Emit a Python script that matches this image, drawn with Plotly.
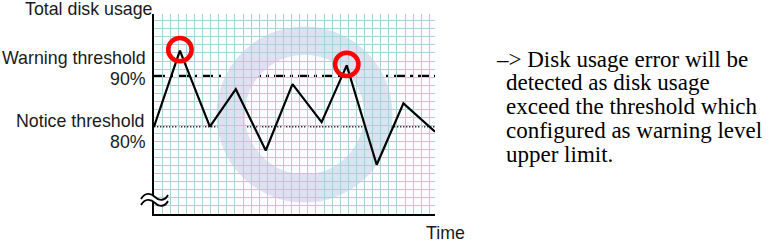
import plotly.graph_objects as go

# ---- data ----
time_pts = [0.0, 3.2, 6.9, 10.1, 13.8, 17.1, 20.7, 23.8, 27.5, 30.8, 34.7]
disk_usage = [80.0, 95.0, 80.0, 87.4, 75.3, 88.4, 80.9, 92.1, 72.5, 84.6, 79.0]
warning_level = 90
notice_level = 80
alert_idx = [1, 7]  # points exceeding the warning threshold
y_range = [62.78, 102.23]
x_range = [0, 34.7]
grid_rows = 24.84
ring_center = (18.58, 82.4)

description = [
    "\u2013> Disk usage error will be",
    "detected as disk usage",
    "exceed the threshold which",
    "configured as warning level",
    "upper limit.",
]

# ---- layout geometry (pixels) ----
W, H = 781, 245
PL, PR, PT, PB = 154, 435, 14, 214


def px_x(p):
    return (p - PL) / (PR - PL)


def px_y(p):
    return (PB - p) / (PB - PT)


GRID = "#a9d3d8"
SANS = "Liberation Sans, Arial, sans-serif"
SERIF = "Liberation Serif, Times New Roman, serif"
LS = 17.8   # left label size
RS = 23     # right text size

fig = go.Figure()

fig.add_trace(go.Scatter(
    x=time_pts, y=disk_usage, mode="lines",
    line=dict(color="black", width=2.2), hoverinfo="skip", showlegend=False,
))
# dummy trace to show the horizontal grid overlay axis
fig.add_trace(go.Scatter(x=[None], y=[None], yaxis="y2", showlegend=False, hoverinfo="skip"))

shapes = []
# big lavender ring (background)
shapes.append(dict(
    type="circle", xref="x", yref="y", xsizemode="pixel", ysizemode="pixel",
    xanchor=ring_center[0], yanchor=ring_center[1],
    x0=-73.8, x1=73.8, y0=-73.8, y1=73.8,
    line=dict(color="#dfe0f0", width=28.5), layer="below",
))
# white band above grid
shapes.append(dict(
    type="rect", xref="paper", yref="paper", x0=0.004, x1=1.02,
    y0=px_y(20.3), y1=1.0, fillcolor="white", line=dict(width=0), layer="between",
))
# warning threshold (dash-dot)
shapes.append(dict(
    type="line", xref="paper", yref="y", x0=0, x1=1, y0=warning_level, y1=warning_level,
    line=dict(color="black", width=2.6, dash="11px,5px,3px,5px"), layer="between",
))
# notice threshold (dotted)
shapes.append(dict(
    type="line", xref="paper", yref="y", x0=0, x1=1, y0=notice_level, y1=notice_level,
    line=dict(color="#333333", width=1.4, dash="1.4px,1.6px"), layer="between",
))
# red circles on alert points
for i in alert_idx:
    shapes.append(dict(
        type="circle", xref="x", yref="y", xsizemode="pixel", ysizemode="pixel",
        xanchor=time_pts[i], yanchor=disk_usage[i],
        x0=-11.7, x1=11.7, y0=-10.7, y1=12.7,
        line=dict(color="#ff0000", width=4.5), layer="above",
    ))


# axis break symbol
def pt(x, y):
    return f"{px_x(x):.5f},{px_y(y):.5f}"


upper = f"M {pt(141,199)} C {pt(145,192)} {pt(151,193)} {pt(155,197)} C {pt(159,201)} {pt(165,201)} {pt(168,195)}"
lower = f"M {pt(141,205)} C {pt(145,198)} {pt(151,199)} {pt(155,203)} C {pt(159,207)} {pt(165,207)} {pt(168,201)}"
fill = (f"M {pt(141,199)} C {pt(145,192)} {pt(151,193)} {pt(155,197)} C {pt(159,201)} {pt(165,201)} {pt(168,195)}"
        f" L {pt(168,201)} C {pt(165,207)} {pt(159,207)} {pt(155,203)} C {pt(151,199)} {pt(145,198)} {pt(141,205)} Z")
shapes.append(dict(type="path", xref="paper", yref="paper", path=fill,
                   fillcolor="white", line=dict(width=0), layer="above"))
for p in (upper, lower):
    shapes.append(dict(type="path", xref="paper", yref="paper", path=p,
                       line=dict(color="black", width=1.8), layer="above"))

annotations = []


def label(text, x, y, xanchor="right", size=LS, family=SANS, **kw):
    annotations.append(dict(
        text=text, x=x, y=y, xanchor=xanchor, yanchor="middle", showarrow=False,
        font=dict(family=family, size=size, color="#1a1a1a"), borderpad=0, **kw,
    ))


off = 0.3465 * LS
label("Total disk usage", px_x(153.5), px_y(15 - off), xref="paper", yref="paper")
label("Warning threshold", px_x(147), warning_level, xref="paper", yref="y", yshift=76 - (64 - off))
label("90%", px_x(147), warning_level, xref="paper", yref="y", yshift=76 - (85 - off))
label("Notice threshold", px_x(146), notice_level, xref="paper", yref="y", yshift=126.7 - (126.7 - off))
label("80%", px_x(147), notice_level, xref="paper", yref="y", yshift=126.7 - (148.3 - off))
label("Time", px_x(425), px_y(239 - off), xanchor="left", xref="paper", yref="paper")

baselines = [67, 90.5, 114.5, 138.5, 162]
for i, (line, b) in enumerate(zip(description, baselines)):
    x0 = 495 if i == 0 else 505
    annotations.append(dict(
        text=line, x=px_x(x0), y=px_y(b - 0.3375 * RS), xref="paper", yref="paper",
        xanchor="left", yanchor="middle", showarrow=False, borderpad=0,
        font=dict(family=SERIF, size=RS, color="black"),
    ))

fig.update_layout(
    width=W, height=H,
    margin=dict(l=PL, r=W - PR, t=PT, b=H - PB, pad=0),
    paper_bgcolor="white", plot_bgcolor="white",
    showlegend=False,
    xaxis=dict(range=x_range, showgrid=True, gridcolor=GRID, gridwidth=1, dtick=1, tick0=0,
               showline=True, linecolor="black", linewidth=2, zeroline=False,
               showticklabels=False, ticks="", fixedrange=True),
    yaxis=dict(range=y_range, showgrid=False, showline=True, linecolor="black", linewidth=2,
               zeroline=False, showticklabels=False, ticks="", fixedrange=True),
    yaxis2=dict(range=[0, grid_rows], overlaying="y", showgrid=True, gridcolor=GRID, gridwidth=1,
                dtick=1, tick0=0, showline=False, zeroline=False, showticklabels=False, ticks=""),
    shapes=shapes,
    annotations=annotations,
)

fig.write_html("out.html")
